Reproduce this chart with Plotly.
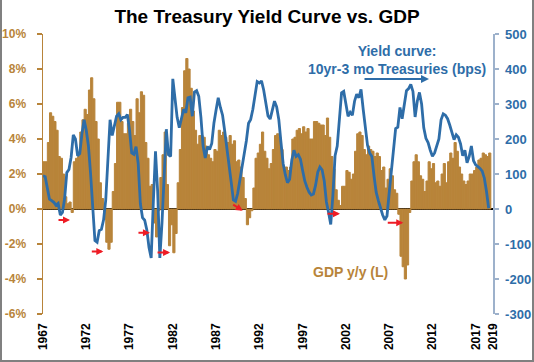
import plotly.graph_objects as go

# ---------------- data ----------------
start_year = 1967  # first quarterly slot on the time axis

# Real GDP, y/y % change, quarterly
gdp_yoy = [
    2.7, 2.7,
    3.8, 5.5, 5.3, 5.0,
    4.5, 3.0, 2.9, 2.0,
    0.7, 0.3, 0.4, -0.2,
    2.7, 2.9, 3.0, 4.4,
    5.1, 5.7, 5.4, 6.8,
    7.5, 6.3, 5.0, 4.0,
    1.5, 0.6, -0.6, -1.9,
    -2.3, -1.9, 1.0, 2.6,
    6.1, 6.1, 5.0, 4.3,
    4.3, 4.9, 5.7, 5.0,
    4.2, 6.3, 5.5, 6.7,
    6.5, 3.8, 2.9, 1.3,
    1.4, -0.8, -1.6, -0.1,
    1.8, 3.1, 4.4, 1.4,
    -2.1, -0.9, -2.5, -1.4,
    1.5, 3.4, 5.8, 7.9,
    8.6, 8.0, 6.9, 5.6,
    4.5, 3.7, 4.2, 4.2,
    4.1, 3.6, 3.1, 2.9,
    2.7, 3.4, 3.3, 4.5,
    4.2, 4.4, 4.1, 3.8,
    4.2, 3.7, 3.9, 2.7,
    2.8, 2.4, 1.8, 0.6,
    -0.9, -0.5, -0.1, 1.2,
    2.9, 3.2, 3.7, 4.4,
    3.3, 2.9, 2.3, 2.6,
    3.4, 4.2, 4.3, 4.1,
    3.4, 2.2, 2.4, 2.2,
    2.4, 4.0, 4.1, 4.5,
    4.6, 4.3, 4.7, 4.4,
    4.6, 4.0, 4.0, 5.0,
    5.0, 4.9, 4.8, 4.8,
    4.2, 5.2, 4.1, 3.0,
    2.3, 1.1, 0.5, 0.2,
    1.3, 1.3, 2.2, 2.1,
    1.7, 2.0, 3.3, 4.3,
    4.4, 4.2, 3.4, 3.1,
    3.6, 3.4, 3.3, 3.0,
    3.2, 3.0, 2.2, 2.4,
    1.2, 1.7, 2.3, 1.9,
    1.1, 0.9, -0.3, -2.7,
    -3.3, -4.0, -3.2, -0.2,
    1.6, 2.7, 3.1, 2.7,
    1.9, 1.7, 1.0, 1.6,
    2.7, 2.3, 2.6, 1.5,
    1.6, 1.3, 2.0, 2.6,
    1.5, 2.7, 3.2, 2.9,
    3.8, 3.3, 2.4, 2.0,
    1.6, 1.4, 1.6, 2.0,
    2.0, 2.2, 2.4, 2.8,
    2.9, 3.2, 3.1, 3.0,
    3.2,
]

# 10yr - 3mo Treasury spread, bps, quarterly
spread_bps = [
    95, 92, 60, 28,
    24, 19, 11, 16,
    -17, -10, 30, 104,
    113, 148, 212, 200,
    152, 158, 215, 255,
    225, 180, 100, 10,
    -90, -95, -62, -58,
    -31, 25, 150, 255,
    210, 235, 265, 272,
    255, 262, 262, 270,
    225, 160, 156, 178,
    130, 15, -25, -32,
    -60, -110, -140, 20,
    165, 50, -140, -40,
    100, 228, 155, 150,
    372, 315, 262, 232,
    262, 285, 275, 318,
    320, 265, 334, 338,
    322, 262, 180, 146,
    178, 170, 187, 245,
    283, 318, 290, 268,
    222, 168, 125, 76,
    26, 22, 45, 82,
    115, 150, 195, 245,
    256, 285, 328, 364,
    360, 366, 340, 298,
    266, 257, 280, 308,
    292, 255, 190, 130,
    98, 75, 85, 140,
    168, 150, 155, 142,
    110, 80, 62, 48,
    40, 43, 68, 105,
    120, 112, 80, 20,
    -10, -44, 40, 152,
    180, 258, 332, 336,
    298, 265, 276, 268,
    308, 328, 318, 342,
    285, 232, 182, 160,
    150, 95, 48, 24,
    3, -17, -31, -20,
    45, 105, 175, 230,
    234, 290, 258, 305,
    338, 344, 356, 336,
    263, 308, 333, 300,
    232, 202, 190, 168,
    151, 160, 182, 200,
    255, 272, 268, 258,
    240, 220, 198, 212,
    205, 186, 152, 168,
    132, 150, 180, 138,
    126, 121, 116, 108,
    88, 50, 2,
]

x_tick_years = [1967, 1972, 1977, 1982, 1987, 1992, 1997, 2002, 2007, 2012, 2017, 2019]
left_ticks = [-6, -4, -2, 0, 2, 4, 6, 8, 10]
right_ticks = [-300, -200, -100, 0, 100, 200, 300, 400, 500]

# arrows marking curve inversions ahead of recessions: (head year, head %, dx px, dy px)
inversion_arrows = [
    (1970.12, -0.63, -13, 0),
    (1973.97, -2.43, -13, 0),
    (1979.36, -1.35, -13, 0),
    (1981.68, -2.49, -14, 0),
    (1990.08, -0.10, -11, -7),
    (2001.32, -0.27, -14, 0),
    (2008.63, -0.78, -17, 0),
]

# ---------------- styling ----------------
GOLD = "#B8843A"
BLUE = "#2E6DA8"
RAXIS = "#9DB1CB"
FONT = "Liberation Sans, Arial, sans-serif"

bar_x = [start_year + 0.25 * i + 0.125 for i in range(len(gdp_yoy))]
line_x = [start_year + 0.25 * i for i in range(len(spread_bps))]

fig = go.Figure()
fig.add_trace(go.Bar(
    x=bar_x, y=gdp_yoy, width=0.25,
    marker=dict(color=GOLD, line=dict(width=1, color=GOLD)),
    name="GDP y/y (L)", yaxis="y", hoverinfo="skip",
))
fig.add_trace(go.Scatter(
    x=line_x, y=spread_bps, mode="lines",
    line=dict(color=BLUE, width=2.8),
    name="Yield curve", yaxis="y2", hoverinfo="skip",
))

L, R, T, B = 43, 41, 34, 48
W, H = 534, 362
pw, ph = W - L - R, H - T - B


def px(xp):
    return (xp - L) / pw


def py(yp):
    return (H - B - yp) / ph


annotations = [
    dict(text="GDP y/y (L)", xref="paper", yref="paper", x=px(350), y=py(272),
         xanchor="center", yanchor="middle", showarrow=False,
         font=dict(family=FONT, size=14, color=GOLD, weight="bold")),
    dict(text="Yield curve:<br>10yr-3 mo Treasuries (bps)", xref="paper", yref="paper",
         x=px(397), y=py(60), xanchor="center", yanchor="middle", showarrow=False,
         font=dict(family=FONT, size=14, color=BLUE, weight="bold")),
    dict(text="", xref="paper", yref="paper", x=px(429), y=py(79), ax=-66, ay=0,
         showarrow=True, arrowhead=2, arrowsize=0.8, arrowwidth=2, arrowcolor=BLUE),
]
for hx, hy, dx, dy in inversion_arrows:
    annotations.append(dict(text="", xref="x", yref="y", x=hx, y=hy, ax=dx, ay=dy,
                            showarrow=True, arrowhead=2, arrowsize=0.7, arrowwidth=2,
                            arrowcolor="#EE1C25"))

fig.update_layout(
    width=W, height=H,
    margin=dict(l=L, r=R, t=T, b=B, pad=0, autoexpand=False),
    paper_bgcolor="white", plot_bgcolor="white",
    showlegend=False, bargap=0, hovermode=False,
    title=dict(text="The Treasury Yield Curve vs. GDP", x=0.5, xanchor="center",
               y=1 - 16 / H, yanchor="middle",
               font=dict(family=FONT, size=19, color="black", weight="bold")),
    xaxis=dict(range=[1967, 2019], tickvals=x_tick_years,
               ticktext=[str(v) for v in x_tick_years], tickangle=-90,
               showline=False, ticks="", showgrid=False, zeroline=False,
               ticklabelstandoff=6, automargin=False,
               tickfont=dict(family=FONT, size=12, color="black", weight="bold")),
    yaxis=dict(range=[-6, 10], tickvals=left_ticks, ticktext=[f"{v}%" for v in left_ticks],
               showline=True, linecolor=GOLD, linewidth=1.5,
               ticks="outside", ticklen=5, tickcolor=GOLD, tickwidth=1.5,
               showgrid=False, zeroline=True, zerolinecolor="black", zerolinewidth=1.5,
               ticklabelstandoff=8, automargin=False,
               tickfont=dict(family=FONT, size=12, color=GOLD, weight="bold")),
    yaxis2=dict(range=[-300, 500], tickvals=right_ticks, ticktext=[str(v) for v in right_ticks],
                overlaying="y", side="right",
                showline=True, linecolor=RAXIS, linewidth=1.5,
                ticks="outside", ticklen=4, tickcolor=RAXIS, tickwidth=1.5,
                showgrid=False, zeroline=False, ticklabelstandoff=4, automargin=False,
                tickfont=dict(family=FONT, size=13, color=BLUE, weight="bold")),
    annotations=annotations,
    shapes=[dict(type="path", xref="paper", yref="paper",
                 path=f"M {px(1)} {py(0)} L {px(1)} {py(361)} L {px(533)} {py(361)} L {px(533)} {py(0)}",
                 line=dict(color="#808080", width=2))],
)

fig.write_html(
    "out.html",
    config={"displayModeBar": False, "staticPlot": True},
    post_script="document.body.style.margin='0';document.body.style.overflow='hidden';",
)
